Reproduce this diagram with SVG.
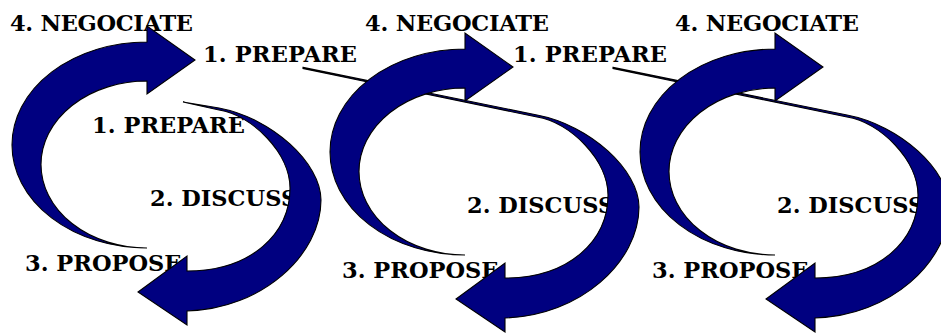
<svg xmlns="http://www.w3.org/2000/svg" width="941" height="333" viewBox="0 0 941 333">
  <style>
    .lbl { font-family: "DejaVu Serif", "Liberation Serif", serif; font-weight: bold; font-size: 22.5px; fill: #000; }
    .arrow { fill: #000080; stroke: #000; stroke-width: 1.1; stroke-linejoin: miter; }
  </style>
  <defs>
    <!-- upper half-loop arrow: thin tail at the bottom, head pointing right -->
    <path id="loop-up" class="arrow"
          d="M465,255 A135,103 0 0 1 330,152 A135,103 0 0 1 465,49 L465,33 L513,67 L465,101 L465,88
             A106,83.5 0 0 0 359,171.5 A106,83.5 0 0 0 465,255 Z"/>
    <!-- lower half-loop arrow with a long sliver tail reaching back to the previous cycle -->
    <path id="loop-down-long" class="arrow"
          d="M303,67.4 L537,115 C590,125 639,170 639,207 C639,262 580,316 505,318 L505,332 L456,299 L505,263 L505,278
             C570,278 608,240 608,195 C608,160 570,122 537,117 L303,68.6 Z"/>
    <!-- lower half-loop arrow with a short tail -->
    <path id="loop-down-short" class="arrow"
          d="M501,109 L537,115 C590,125 639,170 639,207 C639,262 580,316 505,318 L505,332 L456,299 L505,263 L505,278
             C570,278 608,240 608,195 C608,160 570,122 537,117 Z"/>
  </defs>

  <!-- step labels -->
  <g id="c1-negociate"><text class="lbl" x="10" y="31" textLength="183">4. NEGOCIATE</text></g>
  <g id="c1-prepare"><text class="lbl" x="92" y="133" textLength="153">1. PREPARE</text></g>
  <g id="c1-discuss"><text class="lbl" x="150" y="206">2. DISCUSS</text></g>
  <g id="c1-propose"><text class="lbl" x="25" y="271">3. PROPOSE</text></g>

  <g id="c2-prepare"><text class="lbl" x="203" y="62" textLength="154">1. PREPARE</text></g>
  <g id="c2-negociate"><text class="lbl" x="365" y="31" textLength="184">4. NEGOCIATE</text></g>
  <g id="c2-discuss"><text class="lbl" x="467" y="213">2. DISCUSS</text></g>
  <g id="c2-propose"><text class="lbl" x="342" y="278">3. PROPOSE</text></g>

  <g id="c3-prepare"><text class="lbl" x="513" y="62" textLength="154">1. PREPARE</text></g>
  <g id="c3-negociate"><text class="lbl" x="675" y="31" textLength="184">4. NEGOCIATE</text></g>
  <g id="c3-discuss"><text class="lbl" x="777" y="213">2. DISCUSS</text></g>
  <g id="c3-propose"><text class="lbl" x="652" y="278">3. PROPOSE</text></g>

  <!-- cycle arrows, drawn over the labels -->
  <g id="connectors">
    <g transform="translate(-318,-7)">
      <use href="#loop-down-short"/>
      <use href="#loop-up"/>
    </g>
    <g>
      <use href="#loop-down-long"/>
      <use href="#loop-up"/>
    </g>
    <g transform="translate(310,0)">
      <use href="#loop-down-long"/>
      <use href="#loop-up"/>
    </g>
  </g>
</svg>
